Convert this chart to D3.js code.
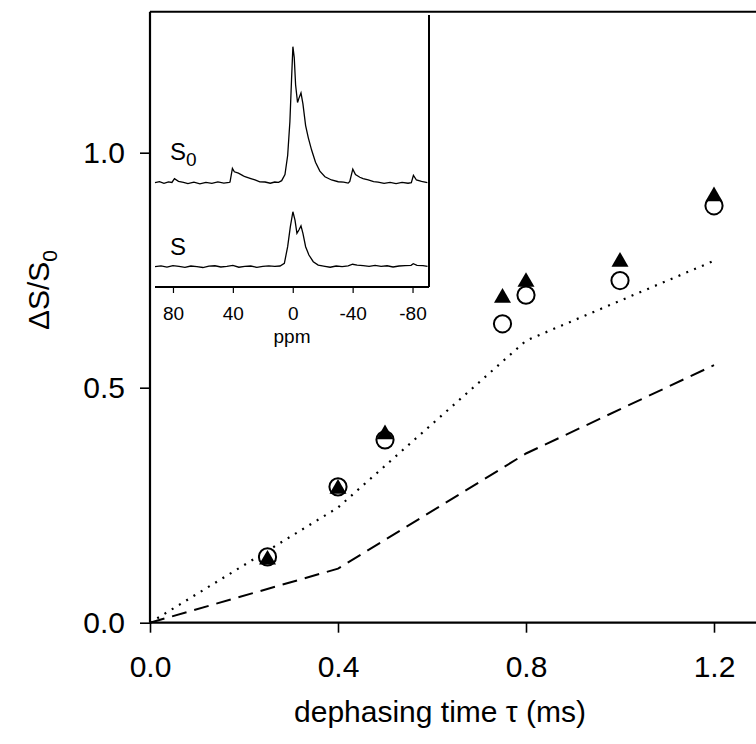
<!doctype html>
<html>
<head>
<meta charset="utf-8">
<style>
  body { margin: 0; background: #fff; }
  svg { display: block; }
  text { font-family: "Liberation Sans", Arial, sans-serif; fill: #000; }
</style>
<script src="https://d3js.org/d3.v7.min.js"></script>
</head>
<body>
<svg width="756" height="744"></svg>
<script>
// main chart data
var tau = [0.25, 0.4, 0.5, 0.75, 0.8, 1.0, 1.2];
var openCircle = [0.140, 0.289, 0.389, 0.636, 0.697, 0.728, 0.887];
var filledTri = [0.134, 0.285, 0.401, 0.691, 0.725, 0.768, 0.907];
var dotTau = [0, 0.4, 0.8, 1.2];
var dotVals = [0, 0.245, 0.6, 0.77];
var dashTau = [0, 0.4, 0.8, 1.2];
var dashVals = [0, 0.115, 0.36, 0.548];
var xTicks = [0, 0.4, 0.8, 1.2];
var yTicks = [0, 0.5, 1.0];

// inset spectra (ppm, intensity)
var insetTicks = [80, 40, 0, -40, -80];
var s0Ppm = [92, 89, 86, 83, 80.7, 79, 76.3, 73, 70, 66, 62, 58, 54, 50, 46, 42.5, 41.9, 40.3, 39, 36.3, 33, 31.9, 28, 25.2, 22, 18.5, 15, 12, 9.5, 7.4, 5.2, 3.4, 1.9, 0.8, -0.1, -1.0, -1.9, -3.2, -4.1, -5.5, -6.8, -8.6, -10.4, -12.6, -15.2, -18.1, -21.5, -25.9, -30.4, -34, -37, -38.1, -40.1, -41.9, -44.8, -47, -50.4, -54, -57, -61, -65, -69, -73, -77, -79.2, -80.6, -82.6, -86, -89.9];
var s0Int = [0, 0.8, -0.5, 0.6, 0.2, 3, 1, 0.3, -0.6, 0.4, -0.8, 0.3, -0.5, 0.6, -0.3, 0.2, 0.5, 10.5, 8, 7, 5, 4.4, 3, 2, 0.6, 0.5, -0.4, 0.5, 0.3, 1.5, 6, 20, 45, 76, 100, 92, 72, 59, 62, 66, 58, 42, 33, 24, 15, 8.5, 4.4, 2, 0.7, 0.4, -0.3, 1, 10, 6, 4, 3, 2, 0.8, 0.5, -0.5, 0.3, -0.6, 0.2, -0.4, 0, 5.4, 2, 1, 0];
var sPpm = [92, 88, 84, 80, 76, 72, 68, 64, 60, 56, 52, 48, 44, 40, 36, 32, 28, 24, 20, 16, 12, 8.5, 5.6, 3.4, 1.6, -0.1, -1.5, -2.8, -4.1, -5.5, -6.8, -8.6, -10.8, -13.7, -17, -21.5, -25, -29, -33, -37, -40, -43, -47, -51, -55, -59, -63, -67, -71, -75, -79, -80.5, -83, -87, -90];
var sInt = [0, 0.6, -0.3, 0.8, 0.2, -0.5, 0.5, 0.1, -0.6, 0.4, 0.7, -0.2, 0.3, 0.9, -0.4, 0.2, 0.5, -0.5, 0.3, 0.6, 0.2, 0.5, 2.5, 14.7, 29.4, 40.4, 34.3, 24.5, 27, 30, 24.5, 14.7, 8.6, 3.7, 1.2, 0.3, -0.4, 0.5, 0, 0.6, 1.8, 1.2, 0.8, 0.3, 1, 0.2, 0.7, -0.2, 0.5, 0.8, 1, 2.2, 1, 0.8, 0.2];

var svg = d3.select("svg");
var mLeft = 150, mTop = 11.7, mBottom = 622.7;
var x = d3.scaleLinear().domain([0, 1.3]).range([mLeft, mLeft + 611]);
var y = d3.scaleLinear().domain([0, 1.3]).range([mBottom, mTop]);

// frame
svg.append("line").attr("x1", mLeft).attr("x2", 756).attr("y1", mTop).attr("y2", mTop)
  .attr("stroke", "#000").attr("stroke-width", 2);

var xAxis = svg.append("g").attr("transform", "translate(0," + mBottom + ")")
  .call(d3.axisBottom(x).tickValues(xTicks).tickFormat(d3.format(".1f")).tickSizeInner(10).tickSizeOuter(0).tickPadding(23));
var yAxis = svg.append("g").attr("transform", "translate(" + mLeft + ",0)")
  .call(d3.axisLeft(y).tickValues(yTicks).tickFormat(d3.format(".1f")).tickSizeInner(10).tickSizeOuter(0).tickPadding(15));
[xAxis, yAxis].forEach(function(a) {
  a.select(".domain").attr("stroke-width", 2.2);
  a.selectAll(".tick line").attr("stroke-width", 1.6);
  a.selectAll(".tick text").attr("font-size", 30).attr("font-family", "Liberation Sans, Arial, sans-serif");
});
xAxis.select(".domain").attr("d", "M" + mLeft + ",0H756");
yAxis.select(".domain").attr("d", "M0," + mTop + "V" + mBottom);

// axis titles
svg.append("text").attr("x", 440).attr("y", 722).attr("text-anchor", "middle")
  .attr("font-size", 30).text("dephasing time \u03c4 (ms)");
var yt = svg.append("text").attr("transform", "translate(49,290) rotate(-90)")
  .attr("text-anchor", "middle").attr("font-size", 30);
yt.append("tspan").text("\u0394S/S");
yt.append("tspan").attr("font-size", 21).attr("dy", 8).text("0");

// simulation curves
var line = d3.line().x(function(d) { return x(d[0]); }).y(function(d) { return y(d[1]); });
svg.append("path").datum(d3.zip(dotTau, dotVals)).attr("d", line)
  .attr("fill", "none").attr("stroke", "#000").attr("stroke-width", 2.2)
  .attr("stroke-dasharray", "2,6.5");
svg.append("path").datum(d3.zip(dashTau, dashVals)).attr("d", line)
  .attr("fill", "none").attr("stroke", "#000").attr("stroke-width", 2)
  .attr("stroke-dasharray", "15,8");

// markers
svg.selectAll(".circ").data(d3.zip(tau, openCircle)).enter().append("circle")
  .attr("class", "circ")
  .attr("cx", function(d) { return x(d[0]); })
  .attr("cy", function(d) { return y(d[1]); })
  .attr("r", 8.6).attr("fill", "#fff").attr("stroke", "#000").attr("stroke-width", 2);
var tri = d3.symbol().type(d3.symbolTriangle).size(125);
svg.selectAll(".tri").data(d3.zip(tau, filledTri)).enter().append("path")
  .attr("class", "tri").attr("d", tri)
  .attr("transform", function(d) { return "translate(" + x(d[0]) + "," + y(d[1]) + ")"; })
  .attr("fill", "#000");

// inset
var xi = d3.scaleLinear().domain([92, -91]).range([155, 429]);
var yi = d3.scaleLinear().domain([0, 100]).range([182.7, 46.7]);
var inset = svg.append("g");
inset.append("line").attr("x1", 429).attr("x2", 429).attr("y1", 15).attr("y2", 287)
  .attr("stroke", "#000").attr("stroke-width", 2);
var ia = inset.append("g").attr("transform", "translate(0,287)")
  .call(d3.axisBottom(xi).tickValues(insetTicks).tickSizeInner(6).tickSizeOuter(0).tickPadding(14)
    .tickFormat(function(d) { return d; }));
ia.select(".domain").attr("stroke-width", 2).attr("d", "M155,0H429");
ia.selectAll(".tick line").attr("stroke-width", 1.2);
ia.selectAll(".tick text").attr("font-size", 19).attr("font-family", "Liberation Sans, Arial, sans-serif");
inset.append("text").attr("x", 292).attr("y", 343).attr("text-anchor", "middle")
  .attr("font-size", 19).text("ppm");

var spec = d3.line().x(function(d) { return xi(d[0]); }).y(function(d) { return yi(d[1]); });
inset.append("path").datum(d3.zip(s0Ppm, s0Int)).attr("d", spec)
  .attr("fill", "none").attr("stroke", "#000").attr("stroke-width", 1.3);
inset.append("path").datum(d3.zip(sPpm, sInt)).attr("d", spec)
  .attr("transform", "translate(0,84)")
  .attr("fill", "none").attr("stroke", "#000").attr("stroke-width", 1.3);

var l0 = inset.append("text").attr("x", 170).attr("y", 160).attr("font-size", 24);
l0.append("tspan").text("S");
l0.append("tspan").attr("font-size", 19).attr("dy", 6).text("0");
inset.append("text").attr("x", 170).attr("y", 255).attr("font-size", 24).text("S");
</script>
</body>
</html>
